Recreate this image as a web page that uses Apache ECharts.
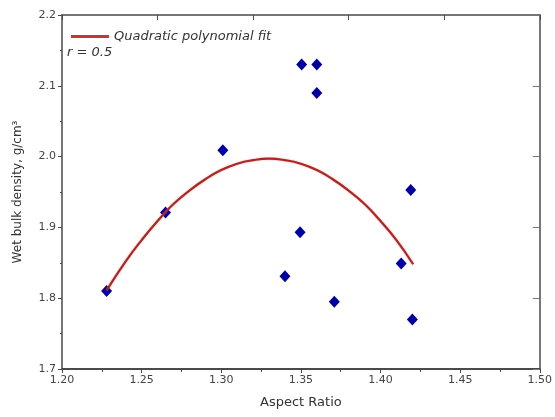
<!DOCTYPE html>
<html>
<head>
<meta charset="utf-8">
<script src="https://cdn.jsdelivr.net/npm/echarts@6/dist/echarts.min.js"></script>
<style>
  html, body { margin: 0; padding: 0; background: #fff; }
  #chartDiv { width: 555px; height: 417px; }
</style>
</head>
<body>
<div id="chartDiv"></div>
<script type="text/javascript">
  // measured points: aspect ratio vs wet bulk density
  var aspectRatio = [1.228, 1.265, 1.301, 1.3505, 1.360, 1.360, 1.419, 1.3495, 1.413, 1.340, 1.371, 1.420];
  var bulkDensity = [1.810, 1.921, 2.009, 2.130, 2.130, 2.090, 1.953, 1.893, 1.849, 1.831, 1.795, 1.770];

  // quadratic fit curve
  var fitX = [1.228, 1.24, 1.25, 1.26, 1.27, 1.28, 1.29, 1.30, 1.31, 1.32, 1.33, 1.34, 1.35, 1.36, 1.37, 1.38, 1.39, 1.40, 1.41, 1.4205];
  var fitY = [1.811, 1.852, 1.882, 1.909, 1.933, 1.952, 1.968, 1.981, 1.990, 1.995, 1.997, 1.995, 1.990, 1.981, 1.968, 1.952, 1.933, 1.909, 1.882, 1.848];

  var fitName = 'Quadratic polynomial fit';
  var rLabel = 'r = 0.5';

  var scatterData = [];
  for (var i = 0; i < aspectRatio.length; i++) {
    scatterData.push([aspectRatio[i], bulkDensity[i]]);
  }
  var fitData = [];
  for (var j = 0; j < fitX.length; j++) {
    fitData.push([fitX[j], fitY[j]]);
  }

  var axisColor = '#4a4a4a';
  var labelColor = '#444';
  var fontFam = 'DejaVu Sans';

  var myChart = echarts.init(document.getElementById('chartDiv'), null, { renderer: 'canvas' });

  var option = {
    animation: false,
    backgroundColor: '#fff',
    grid: { left: 62, right: 13, top: 15, bottom: 48 },
    legend: {
      data: [{ name: fitName, icon: 'rect' }],
      left: 66,
      top: 25,
      itemWidth: 38,
      itemHeight: 3,
      itemGap: 6,
      textStyle: { fontFamily: fontFam, fontStyle: 'italic', fontSize: 13, color: '#333' }
    },
    xAxis: [
      {
        type: 'value',
        min: 1.2,
        max: 1.5,
        interval: 0.05,
        name: 'Aspect Ratio',
        nameLocation: 'middle',
        nameGap: 27,
        nameTextStyle: { fontFamily: fontFam, fontSize: 13, color: '#333' },
        axisLine: { show: true, onZero: false, lineStyle: { color: axisColor, width: 2 } },
        axisTick: { show: true, inside: false, length: 4, lineStyle: { color: axisColor } },
        minorTick: { show: true, splitNumber: 2, length: 3, lineStyle: { color: axisColor } },
        splitLine: { show: false },
        axisLabel: {
          fontFamily: fontFam, fontSize: 11, color: labelColor, margin: 6,
          formatter: function (v) { return v.toFixed(2); }
        }
      },
      {
        type: 'value',
        position: 'top',
        min: 1.2,
        max: 1.5,
        interval: 0.06,
        axisLine: { show: true, onZero: false, lineStyle: { color: axisColor, width: 1.5 } },
        axisTick: { show: true, inside: true, length: 5, lineStyle: { color: axisColor } },
        splitLine: { show: false },
        axisLabel: { show: false }
      }
    ],
    yAxis: [
      {
        type: 'value',
        min: 1.7,
        max: 2.2,
        interval: 0.1,
        name: 'Wet bulk density, g/cm\u00b3',
        nameLocation: 'middle',
        nameGap: 38,
        nameTextStyle: { fontFamily: fontFam, fontSize: 12, color: '#333' },
        axisLine: { show: true, onZero: false, lineStyle: { color: axisColor, width: 1.5 } },
        axisTick: { show: true, inside: false, length: 4, lineStyle: { color: axisColor } },
        minorTick: { show: true, splitNumber: 2, length: 2, lineStyle: { color: axisColor } },
        splitLine: { show: false },
        axisLabel: {
          fontFamily: fontFam, fontSize: 11, color: labelColor, margin: 6,
          formatter: function (v) { return v.toFixed(1); }
        }
      },
      {
        type: 'value',
        position: 'right',
        min: 1.7,
        max: 2.2,
        interval: 0.1,
        axisLine: { show: true, onZero: false, lineStyle: { color: axisColor, width: 1.5 } },
        axisTick: { show: true, inside: true, length: 7, lineStyle: { color: '#777' } },
        splitLine: { show: false },
        axisLabel: { show: false }
      }
    ],
    series: [
      {
        name: 'data',
        type: 'scatter',
        symbol: 'diamond',
        symbolSize: [11, 12],
        itemStyle: { color: '#0000a0', opacity: 1 },
        data: scatterData,
        z: 2
      },
      {
        name: fitName,
        type: 'line',
        smooth: true,
        symbol: 'none',
        lineStyle: { color: '#ad2626', width: 2.2, shadowColor: 'rgba(230,80,80,0.5)', shadowBlur: 2 },
        itemStyle: { color: '#c0393a' },
        data: fitData,
        z: 3
      }
    ],
    graphic: {
      elements: [
        {
          type: 'text',
          left: 67,
          top: 46,
          style: {
            text: rLabel,
            font: 'italic 13px "DejaVu Sans"',
            fill: '#333'
          }
        }
      ]
    }
  };
  myChart.setOption(option);
</script>
</body>
</html>
